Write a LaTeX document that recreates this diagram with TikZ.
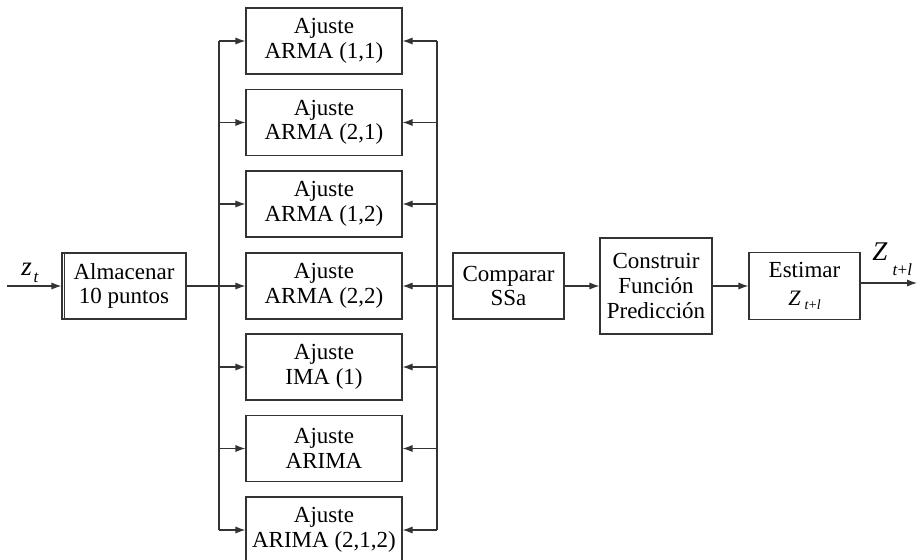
\documentclass[tikz,border=0pt]{standalone}
\usepackage{fontspec}
\setmainfont{Liberation Serif}
\usetikzlibrary{arrows.meta}

\begin{document}
\begin{tikzpicture}[x=0.5pt,y=-0.5pt,
    caja/.style={draw=black!80,line width=0.6pt,align=center,inner sep=0pt,
      font=\fontsize{11.5}{12.3}\selectfont},
    flecha/.style={draw=black!80,line width=0.6pt,-{Latex[length=5pt,width=3.6pt]}},
    linea/.style={draw=black!80,line width=0.6pt}]
  \useasboundingbox (0,0) rectangle (923,559);
  \node[caja,minimum width=62pt,minimum height=33pt] (alm) at (124,286) {Almacenar\\10 puntos};
  \draw[linea] ([xshift=1.5pt]alm.north west) -- ([xshift=1.5pt]alm.south west);
  \foreach \i/\y/\txt in {1/41/{ARMA (1,1)}, 2/122.5/{ARMA (2,1)}, 3/204/{ARMA (1,2)}, 4/286/{ARMA (2,2)},
      5/367/{IMA (1)}, 6/448.5/{ARIMA}, 7/530/{ARIMA (2,1,2)}} {
    \node[caja,minimum width=78pt,minimum height=33pt] (aj\i) at (324,\y) {Ajuste\\\txt};
  }
  \node[caja,minimum width=55.5pt,minimum height=33pt] (cmp) at (508.5,286) {Comparar\\SSa};
  \node[caja,minimum width=56pt,minimum height=48pt] (con) at (656,286) {Construir\\Función\\Predicción};
  \node[caja,minimum width=55.5pt,minimum height=33.5pt] (est) at (804.5,286) {Estimar\\[1.5pt]
    {\fontsize{11}{11}\selectfont\textit{Z}}\hspace{2pt}\raisebox{-2pt}{\fontsize{7}{7}\selectfont\textit{t}+\textit{l}}};
  % buses
  \coordinate (bi) at (219,286);
  \coordinate (bd) at (437,286);
  \coordinate (ent) at (7,286);
  \coordinate (sal) at (917,283);
  \draw[flecha] (ent) -- (alm);
  \draw[linea] (alm) -- (bi);
  \draw[linea] (aj1.west -| bi) -- (aj7.west -| bi);
  \draw[linea] (aj1.east -| bd) -- (aj7.east -| bd);
  \foreach \i in {1,...,7} {
    \draw[flecha] (aj\i.west -| bi) -- (aj\i);
  }
  \foreach \i in {1,2,3,5,6,7} {
    \draw[flecha] (aj\i.east -| bd) -- (aj\i);
  }
  \draw[flecha] (cmp) -- (aj4);
  \draw[flecha] (cmp) -- (con);
  \draw[flecha] (con) -- (est);
  \draw[flecha] (est.east |- sal) -- (sal);
  % labels
  \node[anchor=base west,inner sep=0pt] (zt) at (21,275)
    {\fontsize{13.5}{13.5}\selectfont\textit{z}\hspace{0.8pt}\raisebox{-3.5pt}{\fontsize{8.5}{9}\selectfont\textit{t}}};
  \node[anchor=base west,inner sep=0pt] (zs) at (872,260)
    {\fontsize{13.5}{14}\selectfont\textit{Z}\hspace{2.5pt}\raisebox{-7.5pt}{\fontsize{8.5}{9}\selectfont\textit{t}+\textit{l}}};
\end{tikzpicture}
\end{document}
